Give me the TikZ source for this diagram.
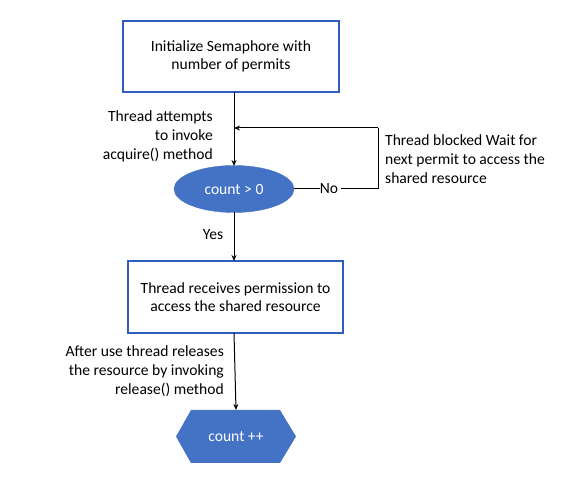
\documentclass[tikz,border=0pt]{standalone}
\usepackage{fontspec}
\setmainfont{Carlito}
\usetikzlibrary{shapes.geometric,arrows.meta}
\definecolor{boxblue}{HTML}{2F5CBF}
\definecolor{fillblue}{HTML}{4472C4}
\tikzset{
  procbox/.style={draw=boxblue, line width=1.3pt, fill=white, minimum width=216pt, minimum height=71pt, align=center, font=\fontsize{15.6}{18.5}\selectfont},
  decis/.style={ellipse, fill=fillblue, draw=fillblue, minimum width=120pt, minimum height=47pt, text=white, font=\fontsize{15.6}{18.5}\selectfont, inner sep=0pt},
  lbl/.style={font=\fontsize{15.6}{18.7}\selectfont, inner sep=0pt},
  conn/.style={line width=1pt, -{Stealth[length=6pt,width=5pt]}},
  plain/.style={line width=1pt}
}
\begin{document}
\begin{tikzpicture}[x=1pt,y=-1pt]
\useasboundingbox (0,0) rectangle (574,489);
\node[procbox] (init) at (231,56.5) {Initialize Semaphore with\\number of permits};
\node[decis] (cnt) at (234,189) {count > 0};
\node[procbox, minimum width=215pt, minimum height=72pt] (recv) at (235.5,297) {Thread receives permission to\\access the shared resource};
\path[fill=fillblue] (176,436.5) -- (191,410) -- (280,410) -- (296,436.5) -- (280,463) -- (191,463) -- cycle;
\node[text=white, font=\fontsize{15.6}{18.5}\selectfont] (inc) at (236,436.5) {count ++};
\coordinate (incTop) at (236,410);
\coordinate (cntTop) at (234,166);
\coordinate (cntRight) at (294,189);
\coordinate (loopR) at (378,189);
\coordinate (loopTR) at (378,128);
\coordinate (loopTL) at (234,128);
\coordinate (initB) at (234,92);
\coordinate (cntB) at (234,212);
\coordinate (recvT) at (234,261);
\coordinate (recvB) at (234,333);

\draw[conn] (initB) -- (cntTop);
\node[lbl, align=right, anchor=east] (att) at (213,136.5) {Thread attempts\\to invoke\\acquire() method};
\node[lbl] (no) at (329,189) {No};
\draw[plain] (cntRight) -- (no.west);
\draw[plain] (no.east) ++(3,0) coordinate (noE) -- (loopR) -- (loopTR);
\draw[conn] (loopTR) -- (loopTL);
\node[lbl, align=left, anchor=west] (blk) at (385,159) {Thread blocked Wait for\\next permit to access the\\shared resource};
\draw[conn] (cntB) -- (recvT);
\node[lbl] (yes) at (213,235) {Yes};
\draw[conn] (recvB) -- (incTop);
\node[lbl, align=right, anchor=east] (aft) at (224,371) {After use thread releases\\the resource by invoking\\release() method};
\end{tikzpicture}
\end{document}
